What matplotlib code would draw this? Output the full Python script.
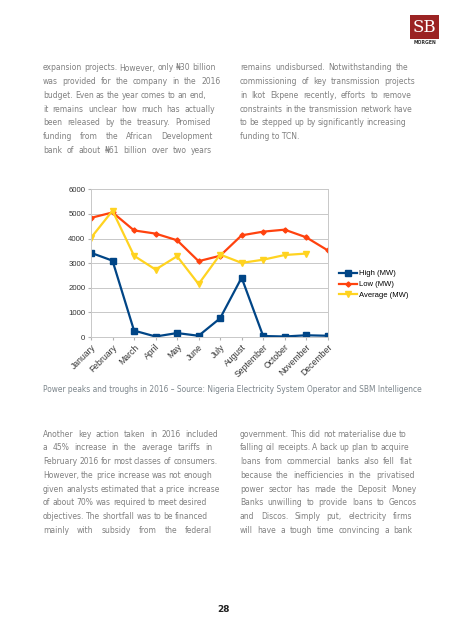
import numpy as np
import matplotlib
matplotlib.use("Agg")
import matplotlib.pyplot as plt
from matplotlib.patches import Rectangle

## chart data (MW)
months = ["January", "February", "March", "April", "May", "June", "July",
          "August", "September", "October", "November", "December"]
high = [3420, 3100, 260, 20, 160, 50, 760, 2410, 40, 20, 70, 50]
low = [4840, 5060, 4330, 4200, 3930, 3080, 3300, 4130, 4280, 4360, 4050, 3520]
average = [4030, 5130, 3300, 2740, 3280, 2150, 3350, 3010, 3140, 3330, 3390]
y_ticks = [0, 1000, 2000, 3000, 4000, 5000, 6000]

caption = "Power peaks and troughs in 2016 \u2013 Source: Nigeria Electricity System Operator and SBM Intelligence"

## page text: (line, right edge in px) -- right edge used to justify
top_left = [("expansion projects. However, only \u20a630 billion", 215),
            ("was provided for the company in the 2016", 220.5),
            ("budget. Even as the year comes to an end,", 206.5),
            ("it remains unclear how much has actually", 215),
            ("been released by the treasury. Promised", 211),
            ("funding from the African Development", 212.5),
            ("bank of about \u20a661 billion over two years", 212.3)]
top_right = [("remains undisbursed. Notwithstanding the", 408.7),
             ("commissioning of key transmission projects", 415),
             ("in Ikot Ekpene recently, efforts to remove", 411.3),
             ("constraints in the transmission network have", 411),
             ("to be stepped up by significantly increasing", 405.3),
             ("funding to TCN.", None)]
bottom_left = [("Another key action taken in 2016 included", 218.3),
               ("a 45% increase in the average tariffs in", 212.3),
               ("February 2016 for most classes of consumers.", 217.3),
               ("However, the price increase was not enough", 212),
               ("given analysts estimated that a price increase", 218.7),
               ("of about 70% was required to meet desired", 207.3),
               ("objectives. The shortfall was to be financed", 207.3),
               ("mainly with subsidy from the federal", 212.3)]
bottom_right = [("government. This did not materialise due to", 406.7),
                ("falling oil receipts. A back up plan to acquire", 408.7),
                ("loans from commercial banks also fell flat", 412.3),
                ("because the inefficiencies in the privatised", 414.3),
                ("power sector has made the Deposit Money", 416.7),
                ("Banks unwilling to provide loans to Gencos", 417),
                ("and Discos. Simply put, electricity firms", 412.3),
                ("will have a tough time convincing a bank", 412.3)]

W, H = 452, 640
fig = plt.figure(figsize=(W / 100, H / 100), dpi=100)
fig.patch.set_facecolor("white")
renderer = fig.canvas.get_renderer()
text_col = "#808080"


def text_width(s, size):
    t = fig.text(0, 0, s, fontsize=size)
    wd = t.get_window_extent(renderer).width
    t.remove()
    return wd


# body size: most lines fit their width, a few get squeezed a little
fits = []
for block, x0 in [(top_left, 43), (top_right, 240), (bottom_left, 43), (bottom_right, 240)]:
    for s, x1 in block:
        if x1 is not None:
            fits.append(10 * (x1 - x0) / text_width(s, 10))
body_size = float(np.percentile(fits, 35))


def px(x, y):
    return x / W, 1 - y / H


def put_line(s, x0, y, x1):
    words = s.split(" ")
    if x1 is None or len(words) < 2:
        fig.text(*px(x0, y), s, fontsize=body_size, color=text_col, va="center")
        return
    ws = [text_width(w, body_size) for w in words]
    gap = max((x1 - x0 - sum(ws)) / (len(words) - 1), 2.0)
    x = x0
    for w, wd in zip(words, ws):
        fig.text(*px(x, y), w, fontsize=body_size, color=text_col, va="center")
        x += wd + gap


def put_block(lines, x0, y0, step=13.7):
    for i, (s, x1) in enumerate(lines):
        put_line(s, x0, y0 + i * step, x1)


put_block(top_left, 43, 68)
put_block(top_right, 240, 68)
put_block(bottom_left, 43, 434.3)
put_block(bottom_right, 240, 434.3)

fig.text(*px(43, 390), caption, fontsize=5.43, color="#7d868c", va="center")
fig.text(*px(224, 609), "28", fontsize=6.5, color="#222222", fontweight="bold",
         ha="center", va="center")

## logo
fig.patches.append(Rectangle(px(410, 39), 29 / W, 24 / H, transform=fig.transFigure,
                             facecolor="#9b2323", edgecolor="none"))
fig.text(*px(424.5, 27), "SB", fontsize=12, color="white", family="DejaVu Serif",
         ha="center", va="center")
fig.text(*px(425, 43), "MORGEN", fontsize=3.3, color="#333333", fontweight="bold",
         ha="center", va="center")

## the chart
ax = fig.add_axes([91 / W, 1 - 337 / H, (327.7 - 91) / W, (337 - 189.3) / H])
x = np.arange(len(months))
ax.plot(x, high, color="#004586", lw=1.6, marker="s", ms=4, label="High (MW)")
ax.plot(x, low, color="#ff420e", lw=1.6, marker="D", ms=2.6, label="Low (MW)")
ax.plot(x[:len(average)], average, color="#ffd320", lw=1.6, marker="v", ms=4,
        label="Average (MW)")
ax.set_xlim(0, len(months) - 1)
ax.set_ylim(0, 6000)
ax.set_yticks(y_ticks)
ax.set_yticklabels([str(v) for v in y_ticks], fontsize=5.6, family="Liberation Sans",
                   color="#333333")
ax.set_xticks(x)
ax.set_xticklabels(months, rotation=45, ha="right", rotation_mode="anchor",
                   fontsize=6.2, family="Liberation Sans", color="#333333")
ax.tick_params(length=2, color="#b3b3b3", pad=2)
ax.grid(axis="y", color="#c8c8c8", lw=0.7)
ax.set_axisbelow(True)
for sp in ax.spines.values():
    sp.set_color("#c8c8c8")
    sp.set_linewidth(0.7)
ax.legend(loc="center left", bbox_to_anchor=(1.03, 0.355), frameon=False,
          prop={"family": "Liberation Sans", "size": 5.5}, handlelength=2.4,
          handletextpad=0.3, labelspacing=0.45, borderpad=0)

fig.savefig("out.png", dpi=100)
